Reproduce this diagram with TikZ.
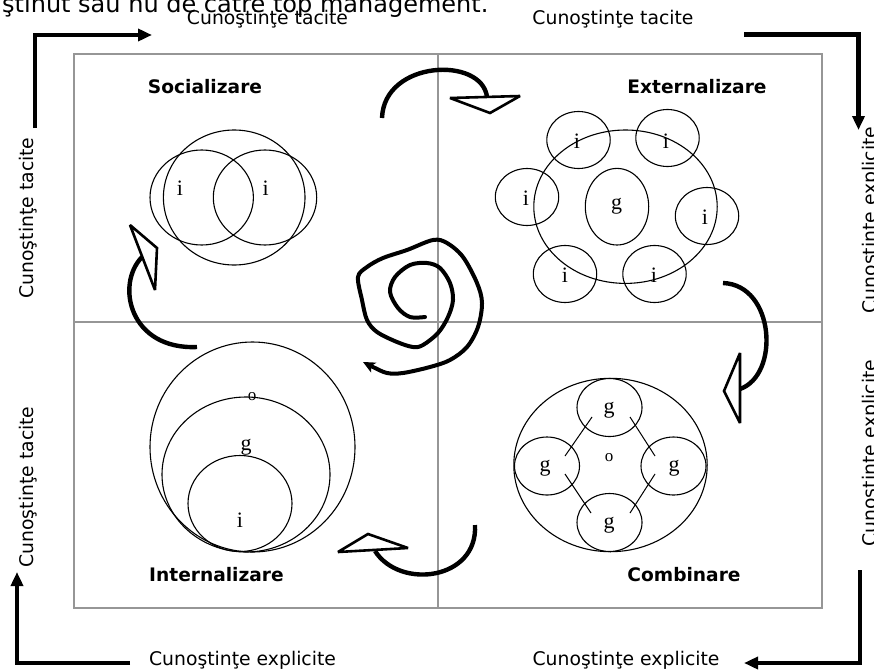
\documentclass[tikz,border=0pt]{standalone}
\usepackage{fontspec}
\usetikzlibrary{arrows.meta}
\newfontfamily\labfont{DejaVu Sans}
\newfontfamily\letfont{Liberation Serif}
\begin{document}
\begin{tikzpicture}[x=1pt,y=-1pt,
  frame/.style={draw={rgb,255:red,150;green,150;blue,150}, line width=1.2pt},
  ring/.style={draw=black, line width=1.1pt},
  axis/.style={line width=4.4pt, line join=miter, -{Triangle[length=14pt,width=12pt]}},
  cyc/.style={line width=4.4pt, line cap=butt},
  head/.style={draw=black, fill=white, line width=2.6pt, line join=miter, miter limit=3},
  link/.style={draw=black, line width=1pt},
  axislabel/.style={font=\labfont\fontsize{18.8}{20}\selectfont, inner sep=0pt, anchor=base},
  modelabel/.style={font=\labfont\bfseries\fontsize{18.6}{20}\selectfont, inner sep=0pt, anchor=base},
  letter/.style={font=\letfont\fontsize{22}{24}\selectfont, inner sep=0pt},
  smallo/.style={font=\letfont\fontsize{17}{18}\selectfont, inner sep=0pt}
]
\useasboundingbox (0,0) rectangle (874,669);

% running text of the page above the figure
\node[anchor=base west, inner sep=0pt, font=\labfont\fontsize{24}{26}\selectfont] (caption) at (2,13) {ştinut sau nu de către top management.};

% frame and quadrants
\draw[frame] (74,54) rectangle (822,608);
\draw[frame] (438,54) -- (438,608);
\draw[frame] (74,322) -- (822,322);

% outer axes
\coordinate (tlA) at (35,128);  \coordinate (tlB) at (35,35);   \coordinate (tlC) at (152,35);
\coordinate (trA) at (744,34.5); \coordinate (trB) at (858.5,34.5); \coordinate (trC) at (858.5,130);
\coordinate (brA) at (860,570); \coordinate (brB) at (860,663); \coordinate (brC) at (744,663);
\coordinate (blA) at (130,663); \coordinate (blB) at (17,663);  \coordinate (blC) at (17,572);
\draw[axis] (tlA) -- (tlB) -- (tlC);
\draw[axis] (trA) -- (trB) -- (trC);
\draw[axis] (brA) -- (brB) -- (brC);
\draw[axis] (blA) -- (blB) -- (blC);

\node[axislabel] (ttl) at (267.5,25) {Cunoştinţe tacite};
\node[axislabel] (ttr) at (613,25) {Cunoştinţe tacite};
\node[axislabel] (bel) at (242.5,665.5) {Cunoştinţe explicite};
\node[axislabel] (ber) at (626,665.5) {Cunoştinţe explicite};
\node[axislabel, rotate=90] (ltt) at (33.5,218) {Cunoştinţe tacite};
\node[axislabel, rotate=90] (ltb) at (33.5,487) {Cunoştinţe tacite};
\node[axislabel, rotate=90] (ret) at (876,220) {Cunoştinţe explicite};
\node[axislabel, rotate=90] (reb) at (876,453) {Cunoştinţe explicite};

% quadrant titles
\node[modelabel] (soc) at (205,93.5) {Socializare};
\node[modelabel] (ext) at (697,93.5) {Externalizare};
\node[modelabel] (int) at (216.5,581) {Internalizare};
\node[modelabel] (com) at (684,581) {Combinare};

% socialization: two individuals sharing
\draw[ring] (234.2,197.5) ellipse [x radius=70.8, y radius=67.5];
\draw[ring] (201.7,197.5) ellipse [x radius=51.7, y radius=47.5];
\draw[ring] (265,197.5) ellipse [x radius=51.7, y radius=47.5];
\node[letter] (si1) at (180,188.3) {i};
\node[letter] (si2) at (265.7,188.3) {i};

% externalization: individuals around a group
\draw[ring] (625.5,206.7) ellipse [x radius=91.7, y radius=76.7];
\draw[ring] (617,206.7) ellipse [x radius=31.7, y radius=38.3];
\foreach \cx/\cy in {578.5/140, 667.5/138, 527/197, 707/216, 565/274, 654.5/274}
  \draw[ring] (\cx,\cy) ellipse [x radius=31.7, y radius=28.5];
\node[letter] (eg) at (616.5,206.7) {g};
\node[letter] (ei1) at (577,141.5) {i};
\node[letter] (ei2) at (666,141) {i};
\node[letter] (ei3) at (526,198) {i};
\node[letter] (ei4) at (705,217) {i};
\node[letter] (ei5) at (565,275) {i};
\node[letter] (ei6) at (654,275) {i};

% internalization: nested circles
\draw[ring] (252.5,447) ellipse [x radius=102.5, y radius=105];
\draw[ring] (246,474.5) ellipse [x radius=84, y radius=77.5];
\draw[ring] (240,503.5) ellipse [x radius=52, y radius=48];
\node[smallo] (io) at (252,396.5) {o};
\node[letter] (ig) at (246,447) {g};
\node[letter] (ii) at (240,520) {i};

% combination: groups within the organization
\draw[ring] (610.5,465) ellipse [x radius=96.7, y radius=86.7];
\foreach \cx/\cy in {609.5/407.5, 547/466, 673.5/466, 609.5/522.5}
  \draw[ring] (\cx,\cy) ellipse [x radius=32.5, y radius=29];
\node[letter] (cg1) at (609,410) {g};
\node[letter] (cg2) at (545,468) {g};
\node[letter] (cg3) at (674,468) {g};
\node[letter] (cg4) at (609,525) {g};
\node[smallo] (co) at (609,458) {o};
\coordinate (k1a) at (592,417); \coordinate (k1b) at (565,456);
\coordinate (k2a) at (630,417); \coordinate (k2b) at (655,456);
\coordinate (k3a) at (565,474); \coordinate (k3b) at (591,513);
\coordinate (k4a) at (655,474); \coordinate (k4b) at (630,513);
\draw[link] (k1a) -- (k1b);
\draw[link] (k2a) -- (k2b);
\draw[link] (k3a) -- (k3b);
\draw[link] (k4a) -- (k4b);

% cycle arrows between the quadrants
\draw[cyc] (382,118) .. controls (384,60) and (482,56) .. (487,97);
\draw[head] (450,98) -- (520,96) -- (490,113) -- cycle;

\draw[cyc] (723,283) .. controls (775,285) and (780,375) .. (740,389);
\draw[head] (740,353) -- (724,391) -- (740,423) -- cycle;

\draw[cyc] (475,525) .. controls (478,580) and (400,590) .. (375,551);
\draw[head] (338,552) -- (368,534) -- (408,548) -- cycle;

\draw[cyc] (197,347) .. controls (130,350) and (115,285) .. (142,257);
\draw[head] (130,225) -- (157,248) -- (155,290) -- cycle;

% knowledge spiral
\draw[line width=4pt, line cap=round, line join=round,
      -{Stealth[length=12pt,width=11pt,inset=3pt]}]
  plot[smooth, tension=0.55] coordinates {
  (425,317) (410,317) (398,308) (390,292) (395,277) (410,265) (427,263)
  (440,268) (450,283) (453,300) (448,317) (438,333) (423,345) (413,347)
  (397,342) (377,332) (367,320) (362,300) (358,277) (367,267) (383,258)
  (407,250) (433,240) (447,243) (463,257) (477,283) (482,303) (478,327)
  (467,347) (450,360) (430,367) (403,373) (387,373) (373,367) (363,362)};
\end{tikzpicture}
\end{document}
